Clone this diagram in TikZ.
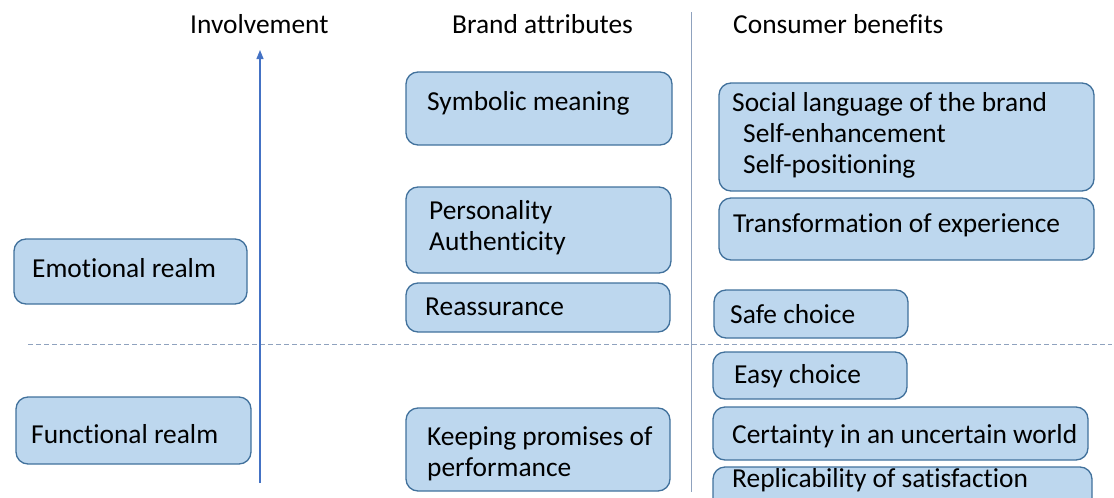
\documentclass[tikz,border=0pt]{standalone}
\usepackage{fontspec}
\setmainfont[Ligatures=NoCommon]{Carlito}
\usetikzlibrary{arrows.meta}
\definecolor{boxfill}{HTML}{BDD7EE}
\definecolor{boxline}{HTML}{41719C}
\definecolor{axisblue}{HTML}{4472C4}
\definecolor{sepline}{HTML}{8FA2BE}
\tikzset{
  box/.style={draw=boxline, fill=boxfill, line width=1.3pt, rounded corners=12pt, inner sep=0pt},
  lbl/.style={anchor=base west, inner sep=0pt, font=\fontsize{27.4}{32}\selectfont, text=black},
  head/.style={anchor=base west, inner sep=0pt, font=\fontsize{27.4}{32}\selectfont, text=black},
}
\newcommand{\mybox}[5]{\node[box, minimum width={(#4-#2)*1pt}, minimum height={(#5-#3)*1pt}] (#1) at ({(#2+#4)/2},{(#3+#5)/2}) {};}
\begin{document}
\begin{tikzpicture}[x=1pt,y=-1pt]
\useasboundingbox (0,0) rectangle (1114,498);
\clip (0,0) rectangle (1114,498);
% headings
\node[head] (hinv) at (190,33) {Involvement};
\node[head] (hbrand) at (452,33) {Brand attributes};
\node[head] (hcons) at (733,33) {Consumer benefits};
% separators
\coordinate (vtop) at (691,12);
\coordinate (vbot) at (691,492);
\draw[sepline, line width=1pt] (vtop) -- (vbot);
\coordinate (dl) at (28,344);
\coordinate (dr) at (1112,344);
\draw[sepline, line width=1pt, dash pattern=on 5pt off 3pt] (dl) -- (dr);
% axis
\coordinate (abot) at (260,483);
\coordinate (atop) at (260,50);
\draw[axisblue, line width=1.2pt, -{Triangle[length=9pt,width=7pt]}] (abot) -- (atop);
% left column
\mybox{emo}{14}{239}{247}{304}
\node[lbl] (temo) at (32,277) {Emotional realm};
\mybox{fun}{16}{397}{251}{464}
\node[lbl] (tfun) at (31,443) {Functional realm};
% middle column
\mybox{sym}{406}{72}{672}{145}
\node[lbl] (tsym) at (427,110) {Symbolic meaning};
\mybox{per}{406}{187}{671}{273}
\node[lbl] (tper) at (429,219) {Personality};
\node[lbl] (taut) at (429,250) {Authenticity};
\mybox{rea}{406}{283}{670}{332}
\node[lbl] (trea) at (425,315) {Reassurance};
\mybox{kee}{406}{408}{670}{491}
\node[lbl] (tkee) at (427,445) {Keeping promises of};
\node[lbl] (tper2) at (427,476) {performance};
% right column
\mybox{soc}{719}{83}{1094}{191}
\node[lbl] (tsoc) at (732,111) {Social language of the brand};
\node[lbl] (tenh) at (743,142) {Self-enhancement};
\node[lbl] (tpos) at (743,173) {Self-positioning};
\mybox{tra}{719}{198}{1094}{260}
\node[lbl] (ttra) at (733,232) {Transformation of experience};
\mybox{saf}{714}{290}{908}{338}
\node[lbl] (tsaf) at (730,323) {Safe choice};
\mybox{eas}{713}{352}{907}{399}
\node[lbl] (teas) at (734,383) {Easy choice};
\mybox{cer}{713}{407}{1088}{460}
\node[lbl] (tcer) at (732,443) {Certainty in an uncertain world};
\mybox{rep}{713}{467}{1092}{520}
\node[lbl] (trep) at (732,487) {Replicability of satisfaction};
\end{tikzpicture}
\end{document}
